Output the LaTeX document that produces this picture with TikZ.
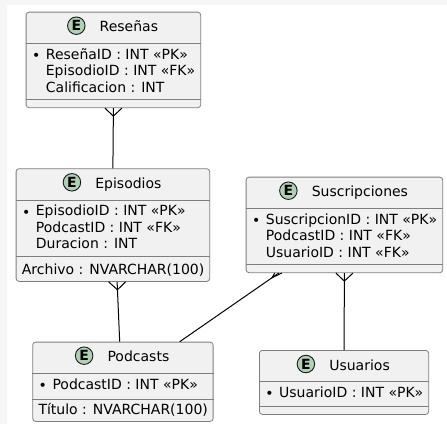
\documentclass[tikz,border=0pt]{standalone}
\usepackage{fontspec}
\setmainfont{DejaVu Sans}
\usepackage{tikz}
\usetikzlibrary{calc, positioning}
\definecolor{entfill}{HTML}{F1F1F1}
\definecolor{entline}{HTML}{7E7E7E}
\definecolor{spot}{HTML}{ADD1B2}
\definecolor{margin}{HTML}{F6F6F6}
\tikzstyle{entity}=[rectangle, rounded corners=3pt, draw=entline, fill=entfill, line width=0.8pt, inner sep=0pt, anchor=north west]
\tikzstyle{divider}=[draw=entline, line width=0.8pt]
\tikzstyle{title}=[inner sep=0pt, anchor=base, text height=10pt, text depth=3pt, font=\fontsize{14}{16.6}\selectfont]
\tikzstyle{badge}=[circle, draw=black!90, fill=spot, line width=0.9pt, minimum size=17.5pt, inner sep=0pt, font=\fontsize{14}{14}\selectfont\bfseries, yshift=2.5pt]
\tikzstyle{fields}=[inner sep=0pt, anchor=base west, font=\fontsize{14}{16.6}\selectfont]
\tikzstyle{rel}=[draw=black, line width=1pt]
\newcommand{\pk}{\llap{\raisebox{-1.5pt}{•}\hspace{5.6pt}}}

\begin{document}
\begin{tikzpicture}[x=1pt, y=-1pt]
    \useasboundingbox (0,0) rectangle (447,424);
    \fill[margin] (0,0) rectangle (447,424);
    \fill[white] (7,5) rectangle (447,424);

    % Reseñas
    \node[entity, minimum width=174.6pt, minimum height=95.6pt] (res) at (25.7,11.7) {};
    \node[title] (resT) at ($(res.north)+(15.5,20)$) {Reseñas};
    \node[badge, left=14pt of resT] (resE) {E};
    \draw[divider] ($(res.north west)+(0,31.6)$) -- ($(res.north east)+(0,31.6)$);
    \draw[divider] ($(res.north west)+(0,87.3)$) -- ($(res.north east)+(0,87.3)$);
    \node[fields] (resF) at ($(res.north west)+(20,47.3)$)
        {\begin{tabular}[t]{@{}l@{}}\pk ReseñaID : INT «PK»\\ EpisodioID : INT «FK»\\ Calificacion : INT\end{tabular}};

    % Episodios
    \node[entity, minimum width=193.6pt, minimum height=112.7pt] (epi) at (15.7,168.3) {};
    \node[title] (epiT) at ($(epi.north)+(15.5,20)$) {Episodios};
    \node[badge, left=14pt of epiT] (epiE) {E};
    \draw[divider] ($(epi.north west)+(0,31.7)$) -- ($(epi.north east)+(0,31.7)$);
    \draw[divider] ($(epi.north west)+(0,88.4)$) -- ($(epi.north east)+(0,88.4)$);
    \node[fields] (epiF) at ($(epi.north west)+(20,47.4)$)
        {\begin{tabular}[t]{@{}l@{}}\pk EpisodioID : INT «PK»\\ PodcastID : INT «FK»\\ Duracion : INT\end{tabular}};
    \node[fields] (epiM) at ($(epi.north west)+(6,105.7)$) {Archivo : NVARCHAR(100)};

    % Podcasts
    \node[entity, minimum width=180.4pt, minimum height=79.3pt] (pod) at (32.3,341.7) {};
    \node[title] (podT) at ($(pod.north)+(15.5,20)$) {Podcasts};
    \node[badge, left=14pt of podT] (podE) {E};
    \draw[divider] ($(pod.north west)+(0,31.6)$) -- ($(pod.north east)+(0,31.6)$);
    \draw[divider] ($(pod.north west)+(0,57.3)$) -- ($(pod.north east)+(0,57.3)$);
    \node[fields] (podF) at ($(pod.north west)+(20,47.3)$) {\pk PodcastID : INT «PK»};
    \node[fields] (podM) at ($(pod.north west)+(6,72.8)$) {Título : NVARCHAR(100)};

    % Suscripciones
    \node[entity, minimum width=196.6pt, minimum height=95.6pt] (sus) at (245.7,176.7) {};
    \node[title] (susT) at ($(sus.north)+(15.5,20)$) {Suscripciones};
    \node[badge, left=14pt of susT] (susE) {E};
    \draw[divider] ($(sus.north west)+(0,31.6)$) -- ($(sus.north east)+(0,31.6)$);
    \draw[divider] ($(sus.north west)+(0,87.6)$) -- ($(sus.north east)+(0,87.6)$);
    \node[fields] (susF) at ($(sus.north west)+(20,47.3)$)
        {\begin{tabular}[t]{@{}l@{}}\pk SuscripcionID : INT «PK»\\ PodcastID : INT «FK»\\ UsuarioID : INT «FK»\end{tabular}};

    % Usuarios
    \node[entity, minimum width=169.3pt, minimum height=64pt] (usu) at (259,350) {};
    \node[title] (usuT) at ($(usu.north)+(15.5,20)$) {Usuarios};
    \node[badge, left=14pt of usuT] (usuE) {E};
    \draw[divider] ($(usu.north west)+(0,31.7)$) -- ($(usu.north east)+(0,31.7)$);
    \draw[divider] ($(usu.north west)+(0,56)$) -- ($(usu.north east)+(0,56)$);
    \node[fields] (usuF) at ($(usu.north west)+(20,47.3)$) {\pk UsuarioID : INT «PK»};

    % relations, crow's foot on the many side
    \coordinate (epiS) at ($(epi.south)+(4.2,0)$);
    \coordinate (podN) at ($(pod.north)+(-3.2,0)$);
    \coordinate (susSW) at ($(sus.south)+(-65.7,0)$);
    \coordinate (podNE) at ($(pod.north)+(56.8,0)$);

    \draw[rel] (res.south) -- (epi.north);
    \draw[rel] ($(res.south)+(-8.5,0)$) -- ($(res.south)!8pt!(epi.north)$) -- ($(res.south)+(8.5,0)$);

    \draw[rel] (epiS) -- (podN);
    \draw[rel] ($(epiS)+(-8.5,0)$) -- ($(epiS)!8pt!(podN)$) -- ($(epiS)+(8.5,0)$);

    \draw[rel] (susSW) -- (podNE);
    \draw[rel] ($(susSW)+(-4,0)$) -- ($(susSW)!8pt!(podNE)$) -- ($(susSW)+(3,0)$);

    \draw[rel] (sus.south) -- (usu.north);
    \draw[rel] ($(sus.south)+(-8.5,0)$) -- ($(sus.south)!8pt!(usu.north)$) -- ($(sus.south)+(8.5,0)$);
\end{tikzpicture}
\end{document}
